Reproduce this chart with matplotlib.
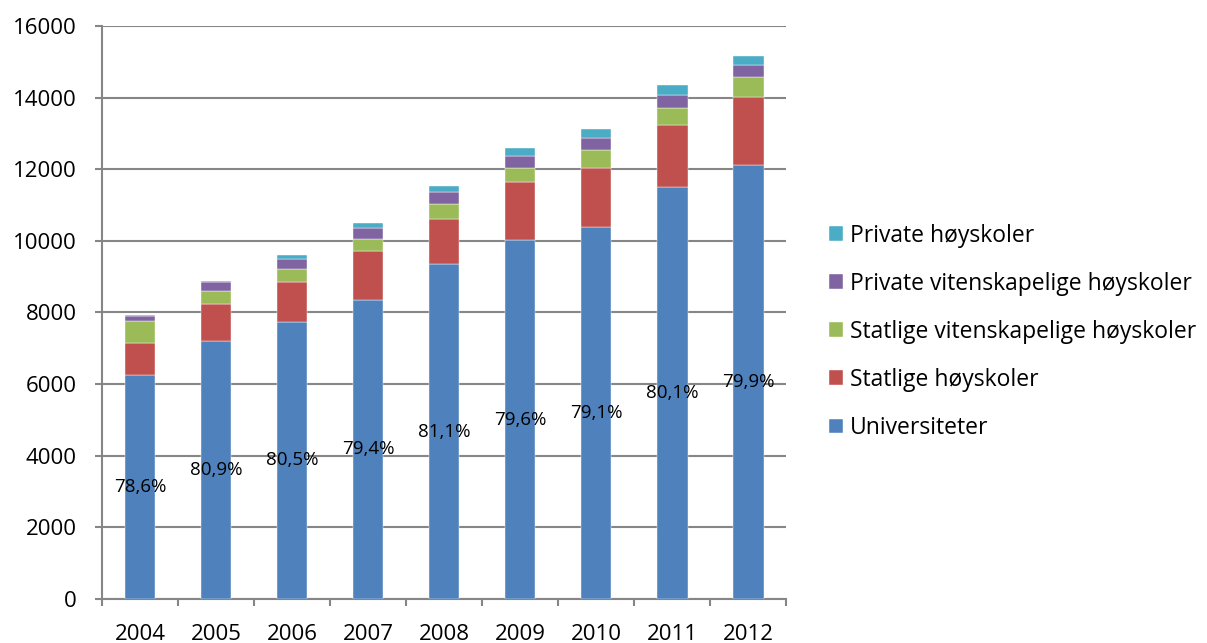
import numpy as np
import matplotlib
matplotlib.use('Agg')
import matplotlib.pyplot as plt

plt.rcParams['font.family'] = ['Open Sans', 'DejaVu Sans']

years = ['2004', '2005', '2006', '2007', '2008', '2009', '2010', '2011', '2012']

# values (stacked segments)
universiteter = [6248, 7195, 7735, 8348, 9351, 10019, 10381, 11513, 12126]
statlige_hs = [911, 1031, 1104, 1373, 1271, 1633, 1661, 1727, 1885]
statlige_vit = [613, 372, 381, 335, 400, 381, 493, 474, 557]
private_vit = [119, 241, 279, 315, 343, 343, 343, 362, 343]
private_hs = [39, 47, 111, 122, 158, 206, 233, 269, 261]

pct_labels = ['78,6%', '80,9%', '80,5%', '79,4%', '81,1%', '79,6%', '79,1%', '80,1%', '79,9%']

series = [
    ('Universiteter', universiteter, '#4F81BD'),
    ('Statlige høyskoler', statlige_hs, '#C0504D'),
    ('Statlige vitenskapelige høyskoler', statlige_vit, '#9BBB59'),
    ('Private vitenskapelige høyskoler', private_vit, '#8064A2'),
    ('Private høyskoler', private_hs, '#4BACC6'),
]

fig = plt.figure(figsize=(12.07, 6.43), dpi=100)
ax = fig.add_axes([0.0845, 0.0685, 0.567, 0.891])

x = np.arange(len(years))
bottom = np.zeros(len(years))
handles = []
for name, vals, col in series:
    b = ax.bar(x, vals, 0.4, bottom=bottom, color=col, label=name,
               edgecolor='white', linewidth=0.3, zorder=3)
    handles.append(b)
    bottom += np.array(vals)

# percentage labels centred in the university segment
for i, lab in enumerate(pct_labels):
    ax.text(x[i], universiteter[i] / 2, lab, ha='center', va='center',
            fontsize=13.5, color='black', zorder=4)

ax.set_xlim(-0.5, len(years) - 0.5)
ax.set_ylim(0, 16000)
ax.set_yticks(np.arange(0, 16001, 2000))
ax.grid(axis='y', color='#868686', linewidth=1.5, zorder=0)
ax.tick_params(axis='y', length=5, width=1.5, color='#868686', labelsize=16, pad=13)

# category boundary ticks, year labels at centres
ax.set_xticks(np.arange(-0.5, len(years), 1.0))
ax.set_xticklabels([])
ax.set_xticks(x, minor=True)
ax.set_xticklabels(years, minor=True, fontsize=16)
ax.tick_params(axis='x', which='major', length=5, width=1.5, color='#868686')
ax.tick_params(axis='x', which='minor', length=0, pad=18)

for s in ['top', 'right']:
    ax.spines[s].set_visible(False)
for s in ['left', 'bottom']:
    ax.spines[s].set_color('#868686')
    ax.spines[s].set_linewidth(1.5)

leg = fig.legend(handles[::-1], [s[0] for s in series][::-1],
                 loc='center left', bbox_to_anchor=(0.687, 0.484),
                 frameon=False, fontsize=16.5, handlelength=0.6, handleheight=0.6,
                 handletextpad=0.3, labelspacing=1.05, borderpad=0, borderaxespad=0)

fig.savefig('out.png', dpi=100)
